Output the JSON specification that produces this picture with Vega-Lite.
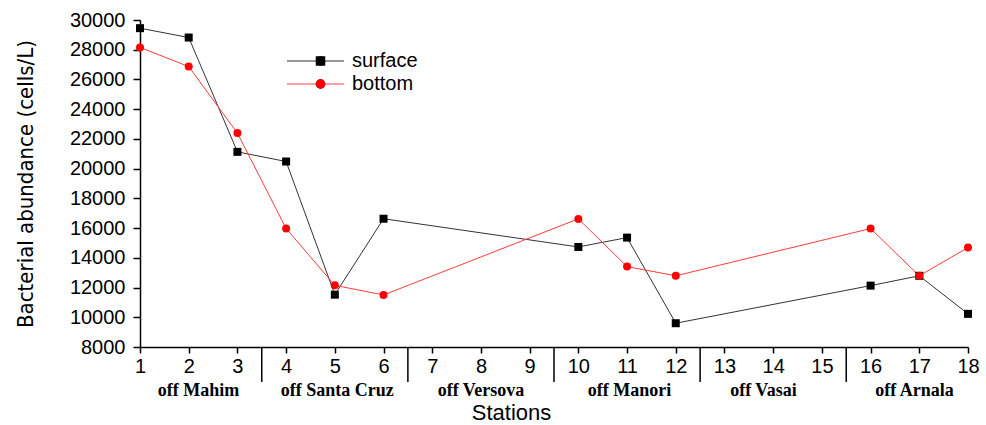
{
  "$schema": "https://vega.github.io/schema/vega-lite/v6.json",
  "width": 828,
  "height": 327,
  "autosize": {"type": "none"},
  "padding": {"left": 140, "top": 20, "right": 18, "bottom": 78},
  "background": "white",
  "config": {
    "view": {"stroke": null},
    "font": "Liberation Sans",
    "axis": {"labelOverlap": false, "grid": false, "labelFlush": false}
  },
  "datasets": {
    "abundance": [
      {"station": 1, "series": "surface", "value": 29450},
      {"station": 2, "series": "surface", "value": 28820},
      {"station": 3, "series": "surface", "value": 21130},
      {"station": 4, "series": "surface", "value": 20480},
      {"station": 5, "series": "surface", "value": 11520},
      {"station": 6, "series": "surface", "value": 16630},
      {"station": 10, "series": "surface", "value": 14730},
      {"station": 11, "series": "surface", "value": 15360},
      {"station": 12, "series": "surface", "value": 9600},
      {"station": 16, "series": "surface", "value": 12130},
      {"station": 17, "series": "surface", "value": 12790},
      {"station": 18, "series": "surface", "value": 10230},
      {"station": 1, "series": "bottom", "value": 28150},
      {"station": 2, "series": "bottom", "value": 26870},
      {"station": 3, "series": "bottom", "value": 22390},
      {"station": 4, "series": "bottom", "value": 15970},
      {"station": 5, "series": "bottom", "value": 12150},
      {"station": 6, "series": "bottom", "value": 11500},
      {"station": 10, "series": "bottom", "value": 16620},
      {"station": 11, "series": "bottom", "value": 13410},
      {"station": 12, "series": "bottom", "value": 12790},
      {"station": 16, "series": "bottom", "value": 15970},
      {"station": 17, "series": "bottom", "value": 12790},
      {"station": 18, "series": "bottom", "value": 14690}
    ],
    "regions": [
      {"region": "off Mahim", "center": 2.2},
      {"region": "off Santa Cruz", "center": 5.05},
      {"region": "off Versova", "center": 8.0},
      {"region": "off Manori", "center": 11.05},
      {"region": "off Vasai", "center": 13.8},
      {"region": "off Arnala", "center": 16.9}
    ],
    "bounds": [
      {"boundary": 3.5},
      {"boundary": 6.5},
      {"boundary": 9.5},
      {"boundary": 12.5},
      {"boundary": 15.5}
    ]
  },
  "layer": [
    {
      "data": {"name": "abundance"},
      "transform": [{"filter": "datum.value > 0"}],
      "mark": {"type": "line", "strokeWidth": 1},
      "encoding": {
        "x": {
          "field": "station", "type": "quantitative",
          "scale": {"domain": [1, 18], "nice": false, "zero": false},
          "axis": {
            "values": [1,2,3,4,5,6,7,8,9,10,11,12,13,14,15,16,17,18],
            "title": "Stations", "titleFont": "Liberation Sans", "titleFontSize": 22, "titleFontWeight": "normal",
            "titleColor": "black", "titlePadding": 26, "titleX": 371,
            "labelFont": "Liberation Sans", "labelFontSize": 20, "labelColor": "black", "labelPadding": 3,
            "tickSize": 6, "tickColor": "black", "tickWidth": 1.5, "domainColor": "black", "domainWidth": 1.5,
            "grid": false, "labelFlush": false, "labelOverlap": false
          }
        },
        "y": {
          "field": "value", "type": "quantitative",
          "scale": {"domain": [8000, 30000], "nice": false, "zero": false},
          "axis": {
            "values": [8000,10000,12000,14000,16000,18000,20000,22000,24000,26000,28000,30000],
            "format": "d",
            "title": "Bacterial abundance (cells/L)", "titleFont": "DejaVu Sans Condensed, Liberation Sans", "titleFontSize": 22, "titleFontWeight": "normal",
            "titleColor": "black", "titlePadding": 32,
            "labelFont": "Liberation Sans", "labelFontSize": 20, "labelColor": "black", "labelPadding": 8,
            "tickSize": 7, "tickColor": "black", "tickWidth": 1.5, "domainColor": "black", "domainWidth": 1.5,
            "grid": false, "labelFlush": false, "labelOverlap": false
          }
        },
        "color": {
          "field": "series", "type": "nominal", "sort": ["surface", "bottom"],
          "scale": {"range": ["#333333", "#ff3b3b"]},
          "legend": {
            "orient": "none", "legendX": 165.5, "legendY": 31, "title": null,
            "symbolType": "M-3,0H3", "symbolSize": 361, "symbolStrokeWidth": 1,
            "labelFont": "Liberation Sans", "labelFontSize": 20, "labelColor": "black", "labelOffset": 26.5, "rowPadding": 3
          }
        }
      }
    },
    {
      "data": {"name": "bounds"},
      "mark": {"type": "rule", "color": "black", "strokeWidth": 1.5},
      "encoding": {
        "x": {
          "field": "boundary", "type": "quantitative",
          "scale": {"domain": [1, 18], "nice": false, "zero": false},
          "axis": {
            "values": [1,2,3,4,5,6,7,8,9,10,11,12,13,14,15,16,17,18],
            "title": "Stations", "titleFont": "Liberation Sans", "titleFontSize": 22, "titleFontWeight": "normal",
            "titleColor": "black", "titlePadding": 26, "titleX": 371,
            "labelFont": "Liberation Sans", "labelFontSize": 20, "labelColor": "black", "labelPadding": 3,
            "tickSize": 6, "tickColor": "black", "tickWidth": 1.5, "domainColor": "black", "domainWidth": 1.5,
            "grid": false, "labelFlush": false, "labelOverlap": false
          }
        },
        "y": {
          "datum": 8000, "type": "quantitative",
          "scale": {"domain": [8000, 30000], "nice": false, "zero": false},
          "axis": {
            "values": [8000,10000,12000,14000,16000,18000,20000,22000,24000,26000,28000,30000],
            "format": "d",
            "title": "Bacterial abundance (cells/L)", "titleFont": "DejaVu Sans Condensed, Liberation Sans", "titleFontSize": 22, "titleFontWeight": "normal",
            "titleColor": "black", "titlePadding": 32,
            "labelFont": "Liberation Sans", "labelFontSize": 20, "labelColor": "black", "labelPadding": 8,
            "tickSize": 7, "tickColor": "black", "tickWidth": 1.5, "domainColor": "black", "domainWidth": 1.5,
            "grid": false, "labelFlush": false, "labelOverlap": false
          }
        },
        "y2": {"datum": 5650}
      }
    },
    {
      "data": {"name": "regions"},
      "mark": {"type": "text", "font": "Liberation Serif", "fontWeight": "bold", "fontSize": 18, "color": "black", "baseline": "middle", "align": "center"},
      "encoding": {
        "x": {
          "field": "center", "type": "quantitative",
          "scale": {"domain": [1, 18], "nice": false, "zero": false},
          "axis": {
            "values": [1,2,3,4,5,6,7,8,9,10,11,12,13,14,15,16,17,18],
            "title": "Stations", "titleFont": "Liberation Sans", "titleFontSize": 22, "titleFontWeight": "normal",
            "titleColor": "black", "titlePadding": 26, "titleX": 371,
            "labelFont": "Liberation Sans", "labelFontSize": 20, "labelColor": "black", "labelPadding": 3,
            "tickSize": 6, "tickColor": "black", "tickWidth": 1.5, "domainColor": "black", "domainWidth": 1.5,
            "grid": false, "labelFlush": false, "labelOverlap": false
          }
        },
        "y": {
          "datum": 5040, "type": "quantitative",
          "scale": {"domain": [8000, 30000], "nice": false, "zero": false},
          "axis": {
            "values": [8000,10000,12000,14000,16000,18000,20000,22000,24000,26000,28000,30000],
            "format": "d",
            "title": "Bacterial abundance (cells/L)", "titleFont": "DejaVu Sans Condensed, Liberation Sans", "titleFontSize": 22, "titleFontWeight": "normal",
            "titleColor": "black", "titlePadding": 32,
            "labelFont": "Liberation Sans", "labelFontSize": 20, "labelColor": "black", "labelPadding": 8,
            "tickSize": 7, "tickColor": "black", "tickWidth": 1.5, "domainColor": "black", "domainWidth": 1.5,
            "grid": false, "labelFlush": false, "labelOverlap": false
          }
        },
        "text": {"field": "region"}
      }
    },
    {
      "data": {"name": "abundance"},
      "mark": {"type": "point", "filled": true, "size": 64, "opacity": 1},
      "encoding": {
        "x": {
          "field": "station", "type": "quantitative",
          "scale": {"domain": [1, 18], "nice": false, "zero": false},
          "axis": {
            "values": [1,2,3,4,5,6,7,8,9,10,11,12,13,14,15,16,17,18],
            "title": "Stations", "titleFont": "Liberation Sans", "titleFontSize": 22, "titleFontWeight": "normal",
            "titleColor": "black", "titlePadding": 26, "titleX": 371,
            "labelFont": "Liberation Sans", "labelFontSize": 20, "labelColor": "black", "labelPadding": 3,
            "tickSize": 6, "tickColor": "black", "tickWidth": 1.5, "domainColor": "black", "domainWidth": 1.5,
            "grid": false, "labelFlush": false, "labelOverlap": false
          }
        },
        "y": {
          "field": "value", "type": "quantitative",
          "scale": {"domain": [8000, 30000], "nice": false, "zero": false},
          "axis": {
            "values": [8000,10000,12000,14000,16000,18000,20000,22000,24000,26000,28000,30000],
            "format": "d",
            "title": "Bacterial abundance (cells/L)", "titleFont": "DejaVu Sans Condensed, Liberation Sans", "titleFontSize": 22, "titleFontWeight": "normal",
            "titleColor": "black", "titlePadding": 32,
            "labelFont": "Liberation Sans", "labelFontSize": 20, "labelColor": "black", "labelPadding": 8,
            "tickSize": 7, "tickColor": "black", "tickWidth": 1.5, "domainColor": "black", "domainWidth": 1.5,
            "grid": false, "labelFlush": false, "labelOverlap": false
          }
        },
        "shape": {
          "field": "series", "type": "nominal", "sort": ["surface", "bottom"],
          "scale": {"range": ["square", "circle"]},
          "legend": {
            "orient": "none", "legendX": 170.5, "legendY": 31, "title": null,
            "symbolSize": 90, "symbolStrokeWidth": 0,
            "labelFont": "Liberation Sans", "labelFontSize": 20, "labelOpacity": 0, "rowPadding": 3
          }
        },
        "fill": {
          "field": "series", "type": "nominal", "sort": ["surface", "bottom"],
          "scale": {"range": ["#000000", "#ff0000"]},
          "legend": {
            "orient": "none", "legendX": 170.5, "legendY": 31, "title": null,
            "symbolSize": 90, "symbolStrokeWidth": 0,
            "labelFont": "Liberation Sans", "labelFontSize": 20, "labelOpacity": 0, "rowPadding": 3
          }
        }
      }
    }
  ]
}
